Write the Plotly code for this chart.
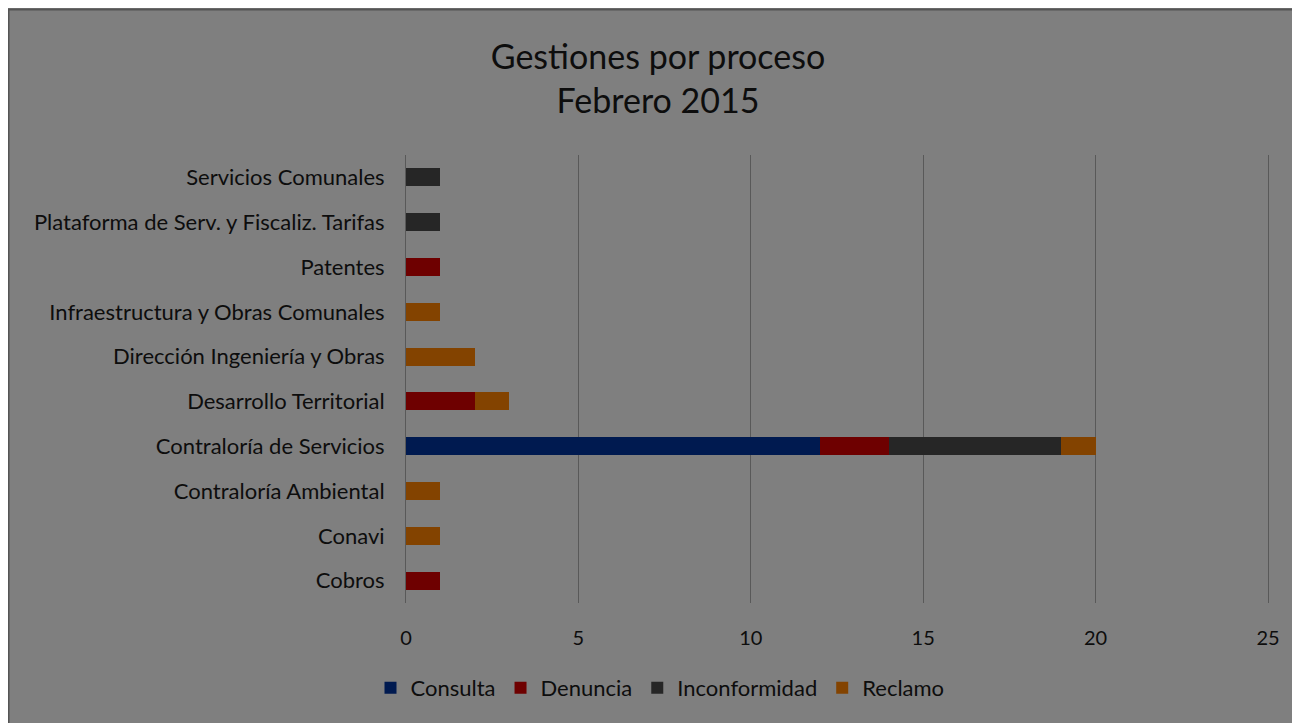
import plotly.graph_objects as go

# categories listed bottom-to-top as they appear on the chart
procesos = [
    "Cobros",
    "Conavi",
    "Contraloría Ambiental",
    "Contraloría de Servicios",
    "Desarrollo Territorial",
    "Dirección Ingeniería y Obras",
    "Infraestructura y Obras Comunales",
    "Patentes",
    "Plataforma de Serv. y Fiscaliz. Tarifas",
    "Servicios Comunales",
]

consulta = [0, 0, 0, 12, 0, 0, 0, 0, 0, 0]
denuncia = [1, 0, 0, 2, 2, 0, 0, 1, 0, 0]
inconformidad = [0, 0, 0, 5, 0, 0, 0, 0, 1, 1]
reclamo = [0, 1, 1, 1, 1, 2, 1, 0, 0, 0]

COLORS = {
    "Consulta": "#001a50",
    "Denuncia": "#6e0000",
    "Inconformidad": "#262626",
    "Reclamo": "#834300",
}

# page body has an 8px margin, so the figure is a bit smaller than the window
W, H = 1292, 715
L, R, T, B = 398, 32, 147, 120
pw, ph = W - L - R, H - T - B


def px_x(p):
    return (p - L) / pw


def px_y(p):
    return (H - B - p) / ph


fig = go.Figure()
for name, vals in [("Consulta", consulta), ("Denuncia", denuncia),
                   ("Inconformidad", inconformidad), ("Reclamo", reclamo)]:
    fig.add_trace(go.Bar(
        name=name,
        y=procesos,
        x=vals,
        orientation="h",
        width=0.4,
        marker=dict(color=COLORS[name], line=dict(width=0)),
    ))

font_family = "Lato, Open Sans, sans-serif"
txt = "#0d0d0d"

fig.update_layout(
    barmode="stack",
    width=W,
    height=H,
    margin=dict(l=L, r=R, t=T, b=B),
    paper_bgcolor="#7f7f7f",
    plot_bgcolor="rgba(0,0,0,0)",
    font=dict(family=font_family, color=txt),
    title=dict(
        text="Gestiones por proceso<br>Febrero 2015",
        x=650 / W, xanchor="center",
        y=1 - 61 / H, yanchor="middle",
        font=dict(size=34, color=txt, family=font_family),
    ),
    xaxis=dict(
        range=[0, 25],
        tickvals=[0, 5, 10, 15, 20, 25],
        showgrid=True,
        gridcolor="#595959",
        gridwidth=1,
        zeroline=False,
        showline=False,
        ticks="",
        tickfont=dict(size=20, color=txt),
        ticklabelstandoff=21,
        fixedrange=True,
    ),
    yaxis=dict(
        showgrid=False,
        zeroline=False,
        showline=True,
        mirror=True,
        linecolor="#595959",
        linewidth=1,
        ticks="",
        tickfont=dict(size=22, color=txt),
        ticklabelstandoff=16,
        fixedrange=True,
    ),
    legend=dict(
        orientation="h",
        x=652 / W, xanchor="center",
        xref="container",
        y=1 - 680 / H, yanchor="middle",
        yref="container",
        bgcolor="rgba(0,0,0,0)",
        font=dict(size=22, color=txt),
        traceorder="normal",
        itemwidth=30,
    ),
    shapes=[
        dict(type="line", xref="paper", yref="paper", layer="above",
             x0=px_x(0.5), x1=px_x(0.5), y0=px_y(H + 20), y1=px_y(1.5),
             line=dict(color="#555555", width=2)),
        dict(type="line", xref="paper", yref="paper", layer="above",
             x0=px_x(0), x1=px_x(W + 20), y0=px_y(1.5), y1=px_y(1.5),
             line=dict(color="#555555", width=2)),
    ],
)

fig.write_html(
    "out.html",
    post_script="document.documentElement.style.overflow='hidden';"
                "document.body.style.overflow='hidden';",
)
